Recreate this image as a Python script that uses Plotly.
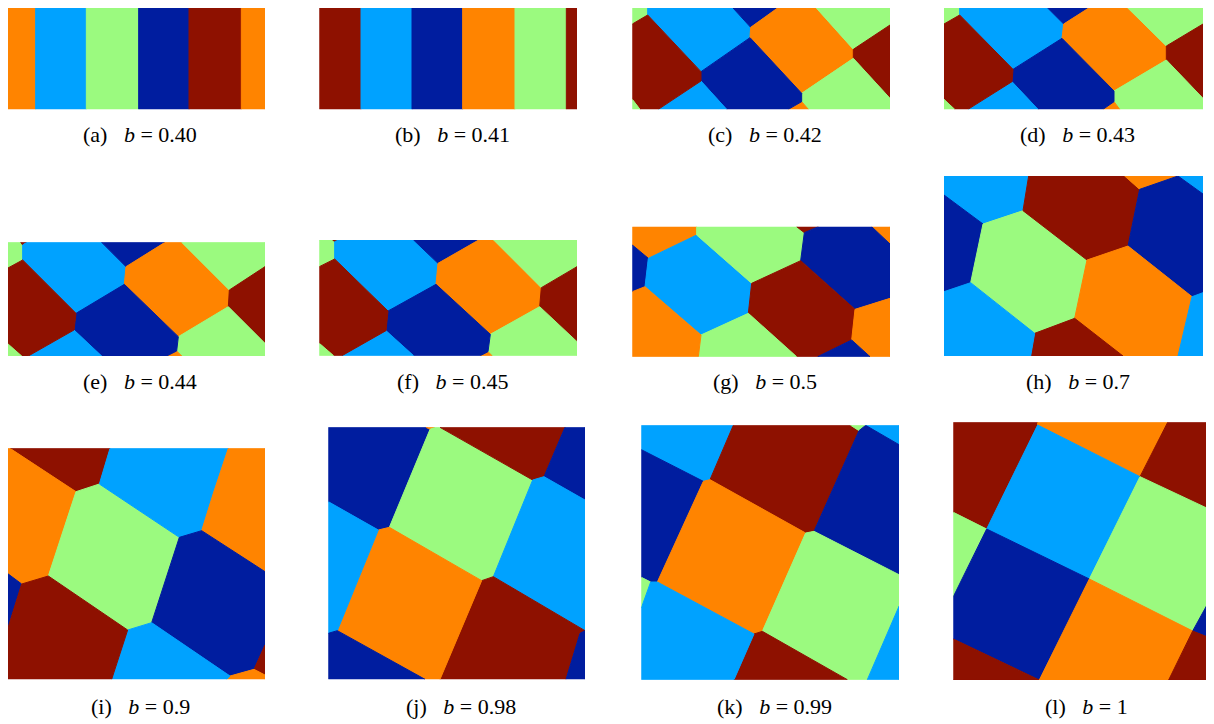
import plotly.graph_objects as go

# colour palette (jet-like)
COLORS = {
    "or": "#FF8400",
    "lb": "#00A2FF",
    "gr": "#9BFA7F",
    "db": "#001D9F",
    "dr": "#8E1100",
}

LABELS = ["a", "b", "c", "d", "e", "f", "g", "h", "i", "j", "k", "l"]
B_VALUES = ["0.40", "0.41", "0.42", "0.43", "0.44", "0.45", "0.5", "0.7", "0.9", "0.98", "0.99", "1"]

# panel placement: crop origin (px) and panel extent in cell units (px*3)
ORIGINS = [(0, 0), (312, 0), (625, 0), (938, 0),
           (0, 235), (312, 235), (625, 220), (938, 170),
           (0, 440), (320, 420), (634, 418), (946, 415)]
X_EXTENT = [(22, 795), (22, 795), (22, 795), (18, 795),
            (22, 795), (22, 795), (22, 795), (18, 795),
            (22, 795), (25, 795), (22, 795), (22, 795)]
Y_EXTENT = [(18, 328), (12, 328), (3, 328), (0, 328),
            (22, 363), (15, 362), (20, 410), (18, 558),
            (25, 718), (22, 778), (22, 785), (22, 795)]
CAPTION_ROW_Y = [134, 382, 706]

# cells of each panel: (colour, vertices)
CELLS_A = [
    ("or", [(22, 18), (107, 18), (107, 328), (22, 328)]),
    ("lb", [(107, 18), (259, 18), (259, 328), (107, 328)]),
    ("gr", [(259, 18), (416, 18), (416, 328), (259, 328)]),
    ("db", [(416, 18), (567, 18), (567, 328), (416, 328)]),
    ("dr", [(567, 18), (724, 18), (724, 328), (567, 328)]),
    ("or", [(724, 18), (795, 18), (795, 328), (724, 328)]),
]
CELLS_B = [
    ("dr", [(22, 12), (147, 12), (147, 328), (22, 328)]),
    ("lb", [(147, 12), (300, 12), (300, 328), (147, 328)]),
    ("db", [(300, 12), (452, 12), (452, 328), (300, 328)]),
    ("or", [(452, 12), (609, 12), (609, 328), (452, 328)]),
    ("gr", [(609, 12), (763, 12), (763, 328), (609, 328)]),
    ("dr", [(763, 12), (795, 12), (795, 328), (763, 328)]),
]
CELLS_C = [
    ("gr", [(22, 3), (50, 3), (68, 20), (68, 45), (22, 72)]),
    ("dr", [(50, 3), (95, 3), (68, 20)]),
    ("lb", [(68, 20), (95, 3), (305, 3), (377, 82), (375, 113), (228, 215), (68, 45)]),
    ("db", [(305, 3), (487, 3), (377, 82)]),
    ("or", [(487, 3), (555, 3), (685, 148), (685, 175), (530, 280), (375, 113), (377, 82)]),
    ("gr", [(555, 3), (795, 3), (795, 75), (685, 148)]),
    ("dr", [(795, 75), (685, 148), (685, 175), (795, 295)]),
    ("gr", [(685, 175), (795, 295), (795, 328), (550, 328), (530, 305), (530, 280)]),
    ("or", [(490, 328), (530, 305), (550, 328)]),
    ("db", [(375, 113), (530, 280), (530, 305), (490, 328), (305, 328), (228, 243), (228, 215)]),
    ("lb", [(228, 243), (305, 328), (100, 328)]),
    ("dr", [(22, 72), (68, 45), (228, 215), (228, 243), (100, 328), (45, 328), (22, 298)]),
    ("gr", [(22, 298), (45, 328), (22, 328)]),
]
CELLS_D = [
    ("gr", [(18, 0), (55, 0), (65, 15), (65, 45), (18, 72)]),
    ("dr", [(55, 0), (85, 0), (65, 15)]),
    ("lb", [(65, 15), (85, 0), (305, 0), (377, 72), (372, 115), (225, 208), (65, 45)]),
    ("db", [(305, 0), (490, 0), (377, 72)]),
    ("or", [(490, 0), (545, 0), (685, 138), (685, 180), (528, 273), (372, 115), (377, 72)]),
    ("gr", [(545, 0), (795, 0), (795, 72), (685, 138)]),
    ("dr", [(795, 72), (685, 138), (685, 180), (795, 295)]),
    ("gr", [(685, 180), (795, 295), (795, 328), (545, 328), (528, 305), (528, 273)]),
    ("or", [(495, 328), (528, 305), (545, 328)]),
    ("db", [(372, 115), (528, 273), (528, 305), (495, 328), (300, 328), (222, 245), (225, 208)]),
    ("lb", [(222, 245), (300, 328), (90, 328)]),
    ("dr", [(18, 72), (65, 45), (225, 208), (222, 245), (90, 328), (50, 328), (18, 298)]),
    ("gr", [(18, 298), (50, 328), (18, 328)]),
]
CELLS_E = [
    ("gr", [(22, 22), (62, 22), (68, 30), (68, 75), (22, 100)]),
    ("dr", [(62, 22), (80, 22), (68, 30)]),
    ("lb", [(68, 30), (80, 22), (305, 22), (378, 95), (373, 148), (228, 235), (68, 75)]),
    ("db", [(305, 22), (495, 22), (378, 95)]),
    ("or", [(495, 22), (545, 22), (688, 165), (685, 215), (535, 305), (373, 148), (378, 95)]),
    ("gr", [(545, 22), (795, 22), (795, 95), (688, 165)]),
    ("dr", [(795, 95), (688, 165), (685, 215), (795, 325)]),
    ("gr", [(685, 215), (795, 325), (795, 363), (545, 363), (530, 348), (535, 305)]),
    ("or", [(500, 363), (530, 348), (545, 363)]),
    ("db", [(373, 148), (535, 305), (530, 348), (500, 363), (305, 363), (222, 285), (228, 235)]),
    ("lb", [(222, 285), (305, 363), (85, 363)]),
    ("dr", [(22, 100), (68, 75), (228, 235), (222, 285), (85, 363), (65, 363), (22, 325)]),
    ("gr", [(22, 325), (65, 363), (22, 363)]),
]
CELLS_F = [
    ("gr", [(22, 15), (62, 15), (68, 20), (68, 72), (22, 95)]),
    ("dr", [(62, 15), (80, 15), (68, 20)]),
    ("lb", [(68, 20), (80, 15), (305, 15), (378, 85), (372, 148), (228, 228), (68, 72)]),
    ("db", [(305, 15), (500, 15), (378, 85)]),
    ("or", [(500, 15), (545, 15), (688, 158), (683, 215), (535, 298), (372, 148), (378, 85)]),
    ("gr", [(545, 15), (795, 15), (795, 95), (688, 158)]),
    ("dr", [(795, 95), (688, 158), (683, 215), (795, 320)]),
    ("gr", [(683, 215), (795, 320), (795, 362), (540, 362), (528, 350), (535, 298)]),
    ("or", [(505, 362), (528, 350), (540, 362)]),
    ("db", [(372, 148), (535, 298), (528, 350), (505, 362), (305, 362), (222, 287), (228, 228)]),
    ("lb", [(222, 287), (305, 362), (90, 362)]),
    ("dr", [(22, 95), (68, 72), (228, 228), (222, 287), (90, 362), (65, 362), (22, 325)]),
    ("gr", [(22, 325), (65, 362), (22, 362)]),
]
CELLS_G = [
    ("or", [(22, 20), (215, 20), (215, 45), (70, 115), (22, 75)]),
    ("db", [(22, 75), (70, 115), (60, 200), (22, 215)]),
    ("lb", [(70, 115), (215, 45), (380, 190), (370, 280), (228, 345), (60, 200)]),
    ("gr", [(215, 20), (515, 20), (538, 38), (527, 122), (380, 190), (215, 45)]),
    ("dr", [(515, 20), (580, 20), (538, 38)]),
    ("or", [(740, 20), (795, 20), (795, 72)]),
    ("db", [(538, 38), (580, 20), (740, 20), (795, 72), (795, 235), (690, 268), (527, 122)]),
    ("dr", [(380, 190), (527, 122), (690, 268), (680, 360), (578, 410), (515, 410), (370, 280)]),
    ("or", [(690, 268), (795, 235), (795, 410), (735, 410), (680, 360)]),
    ("db", [(680, 360), (735, 410), (578, 410)]),
    ("gr", [(370, 280), (515, 410), (220, 410), (228, 345)]),
    ("or", [(22, 215), (60, 200), (228, 345), (220, 410), (22, 410)]),
]
CELLS_H = [
    ("lb", [(18, 18), (272, 18), (255, 122), (135, 162), (18, 75)]),
    ("db", [(18, 75), (135, 162), (98, 338), (18, 365)]),
    ("gr", [(135, 162), (255, 122), (447, 270), (410, 445), (290, 490), (98, 338)]),
    ("dr", [(272, 18), (560, 18), (605, 58), (570, 228), (447, 270), (255, 122)]),
    ("or", [(560, 18), (720, 18), (605, 58)]),
    ("lb", [(720, 18), (795, 18), (795, 72)]),
    ("db", [(605, 58), (720, 18), (795, 72), (795, 368), (762, 380), (570, 228)]),
    ("or", [(447, 270), (570, 228), (762, 380), (720, 558), (555, 558), (410, 445)]),
    ("lb", [(762, 380), (795, 368), (795, 558), (720, 558)]),
    ("dr", [(290, 490), (410, 445), (555, 558), (278, 558)]),
    ("lb", [(18, 365), (98, 338), (290, 490), (278, 558), (18, 558)]),
]
CELLS_I = [
    ("dr", [(30, 25), (330, 25), (298, 132), (228, 155)]),
    ("or", [(22, 25), (30, 25), (228, 155), (145, 408), (65, 432), (22, 400)]),
    ("db", [(22, 400), (65, 432), (22, 570)]),
    ("gr", [(228, 155), (298, 132), (538, 292), (455, 548), (383, 570), (145, 408)]),
    ("lb", [(330, 25), (685, 25), (640, 160), (605, 272), (538, 292), (298, 132)]),
    ("or", [(685, 25), (795, 25), (795, 395), (605, 272), (640, 160)]),
    ("db", [(538, 292), (605, 272), (795, 395), (795, 615), (762, 688), (690, 708), (455, 548)]),
    ("dr", [(795, 615), (795, 705), (762, 688)]),
    ("or", [(690, 708), (762, 688), (795, 705), (795, 718), (680, 718)]),
    ("lb", [(383, 570), (455, 548), (690, 708), (680, 718), (335, 718)]),
    ("dr", [(65, 432), (145, 408), (383, 570), (335, 718), (22, 718), (22, 570)]),
]
CELLS_J = [
    ("db", [(25, 22), (318, 22), (330, 28), (208, 322), (175, 330), (25, 245)]),
    ("or", [(318, 22), (345, 22), (330, 28)]),
    ("gr", [(330, 28), (345, 22), (360, 22), (638, 180), (520, 470), (485, 482), (208, 322)]),
    ("dr", [(360, 22), (735, 22), (672, 170), (638, 180)]),
    ("db", [(735, 22), (795, 22), (795, 240), (672, 170)]),
    ("lb", [(638, 180), (672, 170), (795, 240), (795, 632), (520, 470)]),
    ("dr", [(485, 482), (520, 470), (795, 632), (780, 640), (738, 778), (360, 778)]),
    ("db", [(780, 640), (795, 632), (795, 778), (738, 778)]),
    ("or", [(175, 330), (208, 322), (485, 482), (360, 778), (315, 778), (52, 632)]),
    ("lb", [(25, 245), (175, 330), (52, 632), (25, 640)]),
    ("db", [(25, 640), (52, 632), (315, 778), (25, 778)]),
]
CELLS_K = [
    ("lb", [(22, 22), (298, 22), (228, 185), (208, 190), (22, 95)]),
    ("dr", [(298, 22), (650, 22), (675, 38), (540, 340), (515, 345), (228, 185)]),
    ("gr", [(650, 22), (695, 22), (675, 38)]),
    ("lb", [(695, 22), (795, 22), (795, 80)]),
    ("db", [(675, 38), (695, 22), (795, 80), (795, 470), (540, 340)]),
    ("db", [(22, 95), (208, 190), (70, 492), (50, 492), (22, 478)]),
    ("gr", [(22, 478), (50, 492), (22, 570)]),
    ("or", [(208, 190), (228, 185), (515, 345), (385, 640), (360, 648), (70, 492)]),
    ("gr", [(515, 345), (540, 340), (795, 470), (795, 565), (700, 785), (640, 785), (385, 640)]),
    ("dr", [(360, 648), (385, 640), (640, 785), (300, 785)]),
    ("lb", [(795, 565), (795, 785), (700, 785)]),
    ("lb", [(22, 570), (50, 492), (70, 492), (360, 648), (300, 785), (22, 785)]),
]
CELLS_L = [
    ("dr", [(22, 22), (275, 22), (275, 30), (122, 342), (22, 292)]),
    ("or", [(275, 22), (665, 22), (582, 185), (275, 30)]),
    ("lb", [(275, 30), (582, 185), (430, 492), (122, 342)]),
    ("dr", [(665, 22), (795, 22), (795, 285), (582, 185)]),
    ("gr", [(582, 185), (795, 285), (795, 548), (740, 648), (430, 492)]),
    ("db", [(795, 548), (740, 648), (795, 670)]),
    ("gr", [(22, 292), (122, 342), (22, 545)]),
    ("db", [(122, 342), (430, 492), (280, 795), (22, 672), (22, 545)]),
    ("dr", [(22, 672), (280, 795), (22, 795)]),
    ("or", [(430, 492), (740, 648), (668, 795), (280, 795)]),
    ("dr", [(740, 648), (795, 670), (795, 795), (668, 795)]),
]

ALL_CELLS = [CELLS_A, CELLS_B, CELLS_C, CELLS_D, CELLS_E, CELLS_F,
             CELLS_G, CELLS_H, CELLS_I, CELLS_J, CELLS_K, CELLS_L]

W, H = 1214, 724
SCALE = 3.0
PAGE_OFFSET = 8  # default page body margin in the browser
NB = "\u00a0"

fig = go.Figure()
layout_axes = {}
annotations = []

for i in range(12):
    ox, oy = ORIGINS[i]
    zx0, zx1 = X_EXTENT[i]
    zy0, zy1 = Y_EXTENT[i]
    px0 = ox + zx0 / SCALE - PAGE_OFFSET
    px1 = ox + zx1 / SCALE - PAGE_OFFSET
    py0 = oy + zy0 / SCALE - PAGE_OFFSET
    py1 = oy + zy1 / SCALE - PAGE_OFFSET
    n = "" if i == 0 else str(i + 1)
    xa, ya = "x" + n, "y" + n
    layout_axes["xaxis" + n] = dict(domain=[max(px0, 0) / W, px1 / W],
                                    range=[zx0 + (max(px0, 0) - px0) * SCALE, zx1],
                                    visible=False, fixedrange=True, anchor=ya)
    layout_axes["yaxis" + n] = dict(domain=[1 - py1 / H, 1 - max(py0, 0) / H],
                                    range=[zy1, zy0 + (max(py0, 0) - py0) * SCALE],
                                    visible=False, fixedrange=True, anchor=xa)
    for col, verts in ALL_CELLS[i]:
        xs = [v[0] for v in verts] + [verts[0][0]]
        ys = [v[1] for v in verts] + [verts[0][1]]
        fig.add_trace(go.Scatter(
            x=xs, y=ys, xaxis=xa, yaxis=ya, mode="lines", fill="toself",
            fillcolor=COLORS[col], line=dict(color=COLORS[col], width=1),
            hoverinfo="skip", showlegend=False))
    cx = (px0 + px1) / 2 + 4
    cy = CAPTION_ROW_Y[i // 4] - PAGE_OFFSET
    annotations.append(dict(
        x=cx / W, y=1 - cy / H, xref="paper", yref="paper",
        xanchor="center", yanchor="middle", showarrow=False,
        text="(%s)%s<i>b</i>%s=%s%s" % (LABELS[i], NB * 3, NB, NB, B_VALUES[i]),
        font=dict(family="Liberation Serif", size=22, color="#000000")))

fig.update_layout(
    width=W, height=H, margin=dict(l=0, r=0, t=0, b=0),
    paper_bgcolor="white", plot_bgcolor="white",
    annotations=annotations, **layout_axes)

fig.write_html("out.html")
